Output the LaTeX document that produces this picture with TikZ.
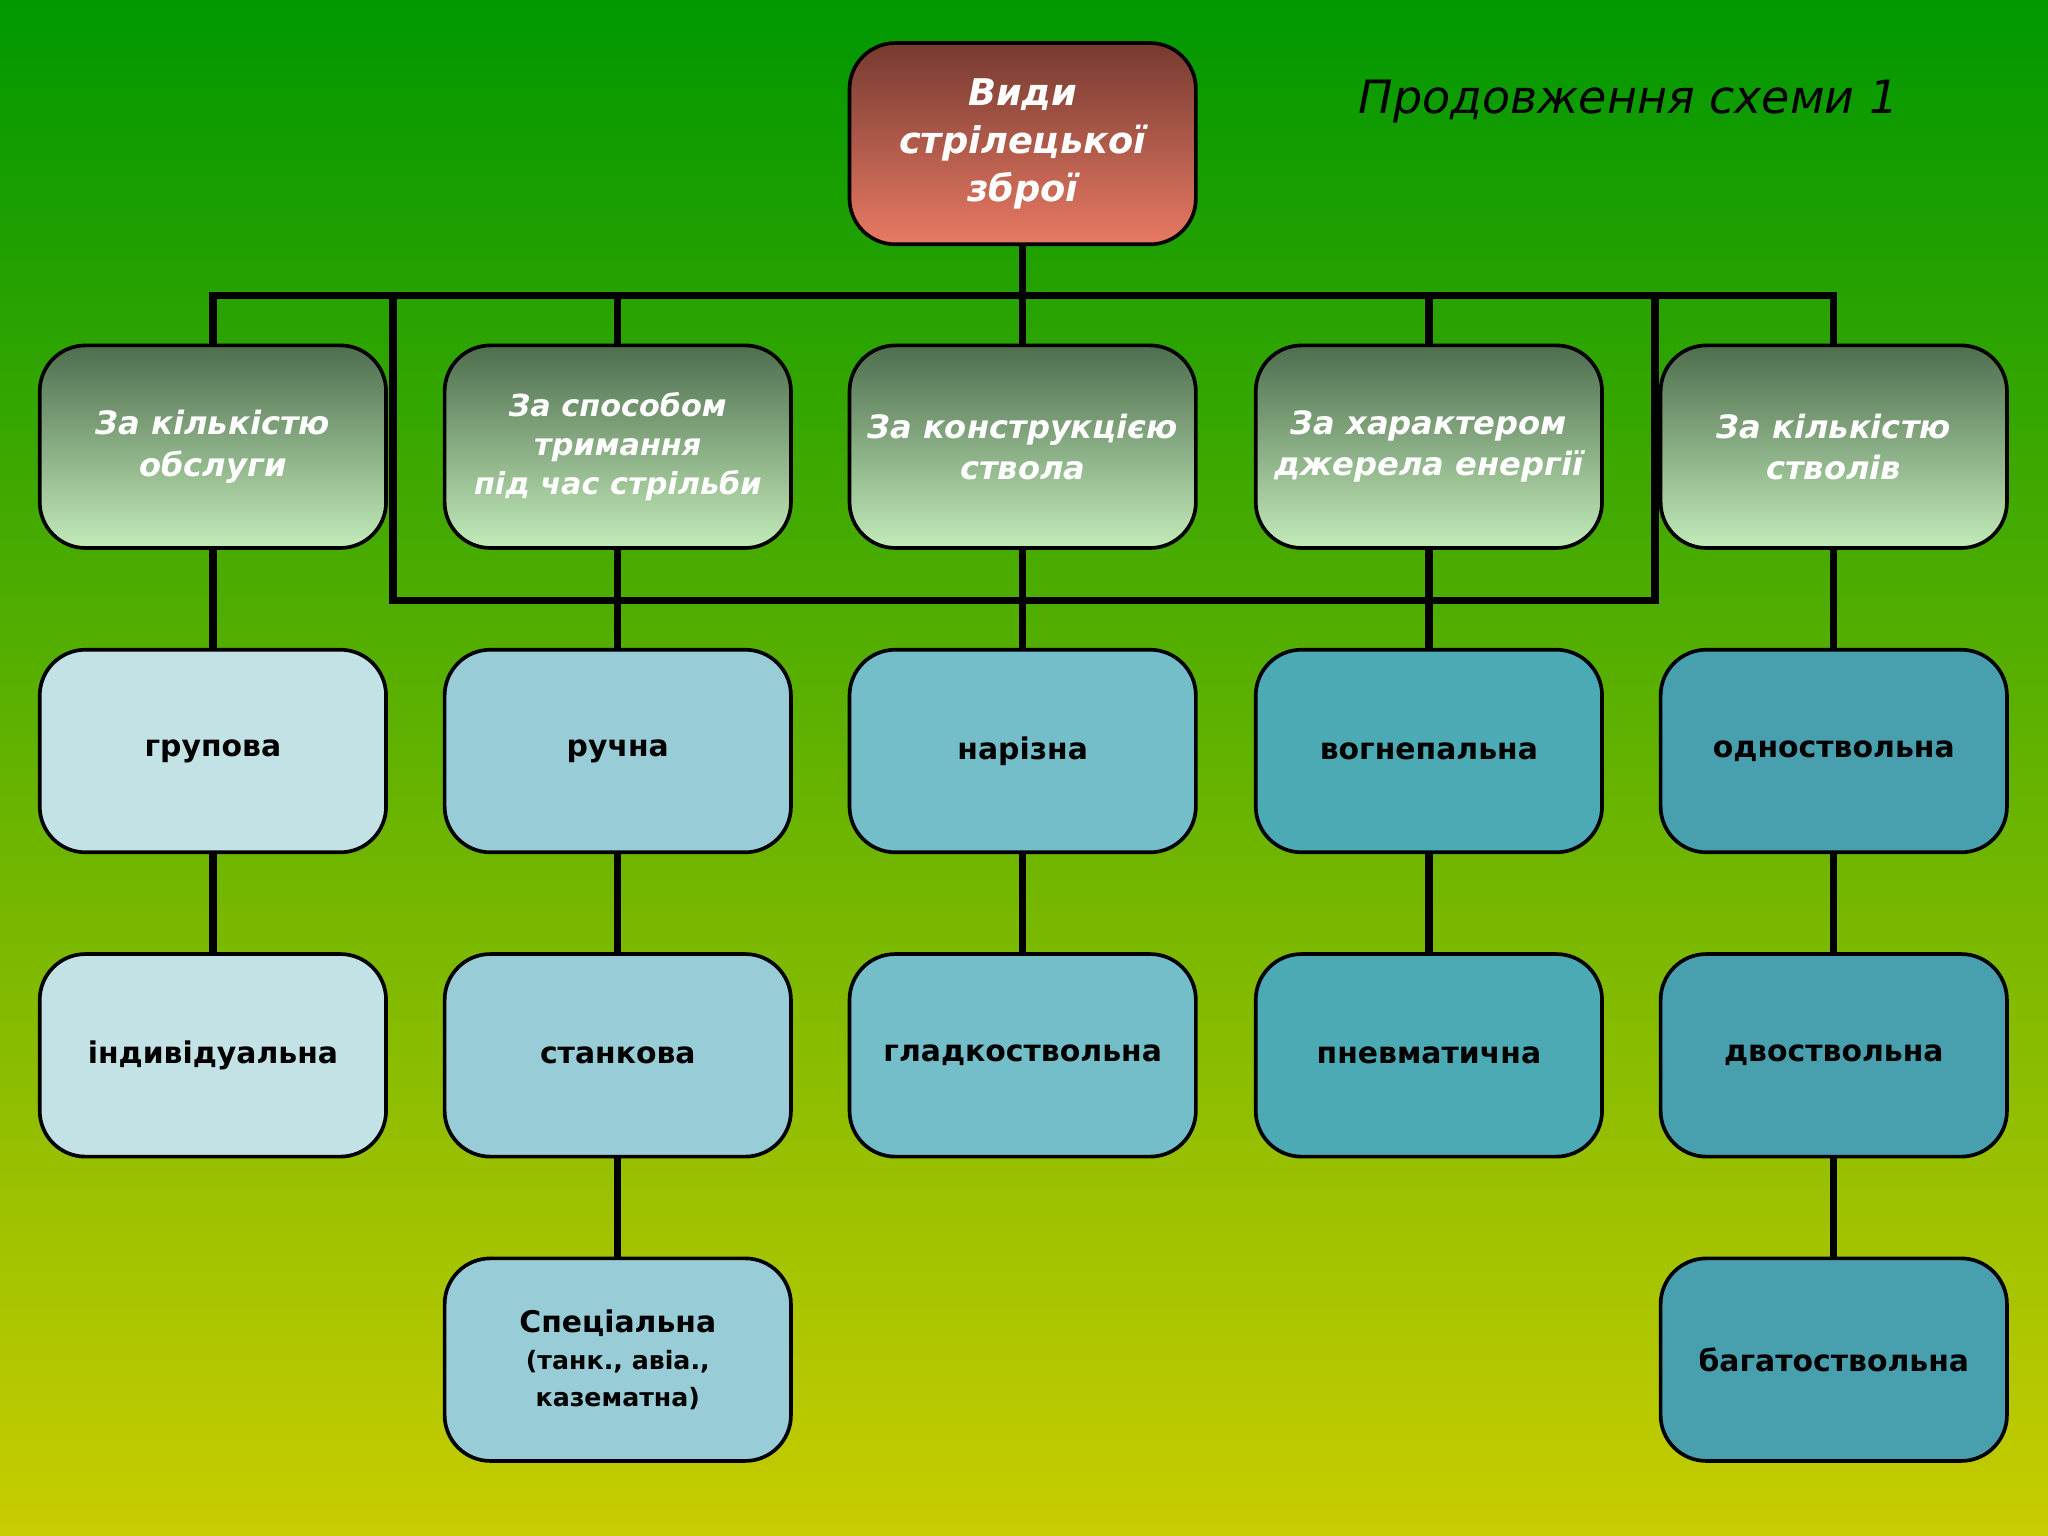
\documentclass[tikz,border=0pt]{standalone}
\usepackage{fontspec}
\setmainfont{DejaVu Sans}
\usetikzlibrary{positioning}
\definecolor{bgtop}{RGB}{0,152,0}
\definecolor{bgbot}{RGB}{200,205,0}
\definecolor{redtop}{RGB}{118,58,48}
\definecolor{redbot}{RGB}{232,122,100}
\definecolor{grtop}{RGB}{78,110,78}
\definecolor{grbot}{RGB}{195,235,185}
\definecolor{colA}{RGB}{195,226,230}
\definecolor{colB}{RGB}{152,205,215}
\definecolor{colC}{RGB}{115,190,200}
\definecolor{colD}{RGB}{76,170,180}
\definecolor{colE}{RGB}{72,160,175}
\tikzstyle{box} = [rectangle, rounded corners=0.35cm, minimum width=2.65cm, minimum height=1.55cm, text centered, draw=black, thick, align=center]
\tikzstyle{head} = [box, top color=grtop, bottom color=grbot, text=white, font=\fontsize{7}{9}\selectfont\bfseries\itshape]
\tikzstyle{leaf} = [box, font=\fontsize{6.5}{8}\selectfont\bfseries]
\tikzstyle{link} = [line width=1.6pt, black]

\begin{document}
\begin{tikzpicture}[x=0.01cm, y=-0.01cm]
    \shade[top color=bgtop, bottom color=bgbot] (0,0) rectangle (1568,1176);
    \useasboundingbox (0,0) rectangle (1568,1176);

    \node (title) at (1247,78) {\fontsize{10}{12}\selectfont\itshape Продовження схеми 1};

    \node (root) [box, top color=redtop, bottom color=redbot, text=white, minimum height=1.54cm, font=\fontsize{8}{10.5}\selectfont\bfseries\itshape] at (783,110) {Види\\стрілецької\\зброї};

    \node (h1) [head] at (163,342) {За кількістю\\обслуги};
    \node (h2) [head, font=\fontsize{6.6}{8.4}\selectfont\bfseries\itshape] at (473,342) {За способом\\тримання\\під час стрільби};
    \node (h3) [head] at (783,342) {За конструкцією\\ствола};
    \node (h4) [head] at (1094,342) {За характером\\джерела енергії};
    \node (h5) [head] at (1404,342) {За кількістю\\стволів};

    \node (a1) [leaf, fill=colA] at (163,575) {групова};
    \node (a2) [leaf, fill=colA] at (163,808) {індивідуальна};

    \node (b1) [leaf, fill=colB] at (473,575) {ручна};
    \node (b2) [leaf, fill=colB] at (473,808) {станкова};
    \node (b3) [leaf, fill=colB] at (473,1041) {Спеціальна\\{\fontsize{5.5}{7}\selectfont(танк., авіа.,}\\{\fontsize{5.5}{7}\selectfont казематна)}};

    \node (c1) [leaf, fill=colC] at (783,575) {нарізна};
    \node (c2) [leaf, fill=colC] at (783,808) {гладкоствольна};

    \node (d1) [leaf, fill=colD] at (1094,575) {вогнепальна};
    \node (d2) [leaf, fill=colD] at (1094,808) {пневматична};

    \node (e1) [leaf, fill=colE] at (1404,575) {одноствольна};
    \node (e2) [leaf, fill=colE] at (1404,808) {двоствольна};
    \node (e3) [leaf, fill=colE] at (1404,1041) {багатоствольна};

    \coordinate (bus) at (783,226);
    \coordinate (fl) at (301,226);
    \coordinate (fr) at (1267,226);
    \draw [link] (root)--(bus);
    \draw [link] (h1.north)|-(bus)-|(h5.north);
    \draw [link] (h2.north)|-(bus)-|(h4.north);
    \draw [link] (bus)--(h3.north);
    \draw [link] (fl)--++(0,234)-|(fr);
    \foreach \u/\v in {h1/a1, a1/a2, h2/b1, b1/b2, b2/b3, h3/c1, c1/c2, h4/d1, d1/d2, h5/e1, e1/e2, e2/e3}
        \draw [link] (\u)--(\v);
\end{tikzpicture}
\end{document}
